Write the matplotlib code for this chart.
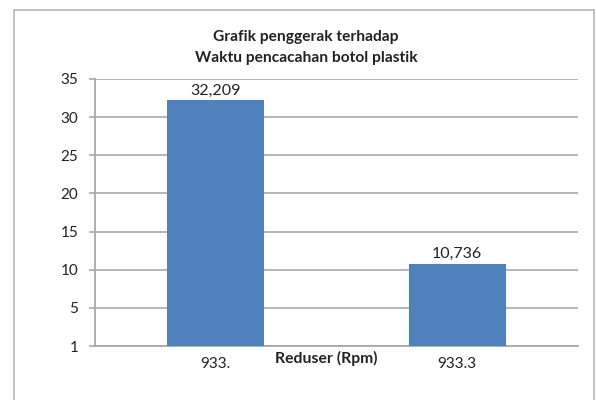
import matplotlib
matplotlib.use("Agg")
import matplotlib.pyplot as plt

# --- data ---
categories = ["933.", "933.3"]
values = [32.209, 10.736]
value_labels = ["32,209", "10,736"]
ytick_pos = [0, 5, 10, 15, 20, 25, 30, 35]
ytick_labels = ["1", "5", "10", "15", "20", "25", "30", "35"]

plt.rcParams['font.family'] = ['Lato', 'DejaVu Sans']

fig = plt.figure(figsize=(5.96, 4.0), dpi=100)
ax = fig.add_axes([95 / 596, 54 / 400, 483 / 596, 267 / 400])

# outer chart frame (left, top, right; bottom runs off the image)
W, H = 596, 400
fig.add_artist(plt.Line2D([14 / W, 14 / W], [0, 1 - 10 / H], transform=fig.transFigure, color="#b8b8b8", lw=1.2))
fig.add_artist(plt.Line2D([14 / W, 594 / W], [1 - 10 / H, 1 - 10 / H], transform=fig.transFigure, color="#b8b8b8", lw=1.2))
fig.add_artist(plt.Line2D([594 / W, 594 / W], [0, 1 - 10 / H], transform=fig.transFigure, color="#b8b8b8", lw=1.2))

x = list(range(len(categories)))
ax.bar(x, values, width=0.40, color="#4F81BD", zorder=3)

for xi, v, lab in zip(x, values, value_labels):
    ax.annotate(lab, (xi, v), xytext=(0, 2), textcoords="offset points",
                ha="center", va="bottom", fontsize=11.5, color="#222222")

ax.set_xlim(-0.5, 1.5)
ax.set_ylim(0, 35)
ax.set_yticks(ytick_pos)
ax.set_yticklabels(ytick_labels)
ax.yaxis.grid(True, color="#b0b0b0", lw=1.3, zorder=0)
ax.set_axisbelow(True)

ax.set_xticks(x)
ax.set_xticklabels(categories)
ax.tick_params(axis="x", length=0, pad=8, labelsize=11, labelcolor="#222222")
ax.tick_params(axis="y", length=4, width=1.2, color="#a8a8a8", pad=8, labelsize=11, labelcolor="#222222")

for s in ["top", "right"]:
    ax.spines[s].set_visible(False)
for s in ["left", "bottom"]:
    ax.spines[s].set_color("#a8a8a8")
    ax.spines[s].set_linewidth(1.3)

fig.text(326 / W, 1 - 358 / H, "Reduser (Rpm)", ha="center", va="center",
         fontsize=11.3, fontweight="bold", color="#222222")
fig.text(306 / W, 1 - 37 / H, "Grafik penggerak terhadap", ha="center", va="center",
         fontsize=11.2, fontweight="bold", color="#222222")
fig.text(306 / W, 1 - 58 / H, "Waktu pencacahan botol plastik", ha="center", va="center",
         fontsize=11.2, fontweight="bold", color="#222222")

fig.savefig("out.png", dpi=100)
